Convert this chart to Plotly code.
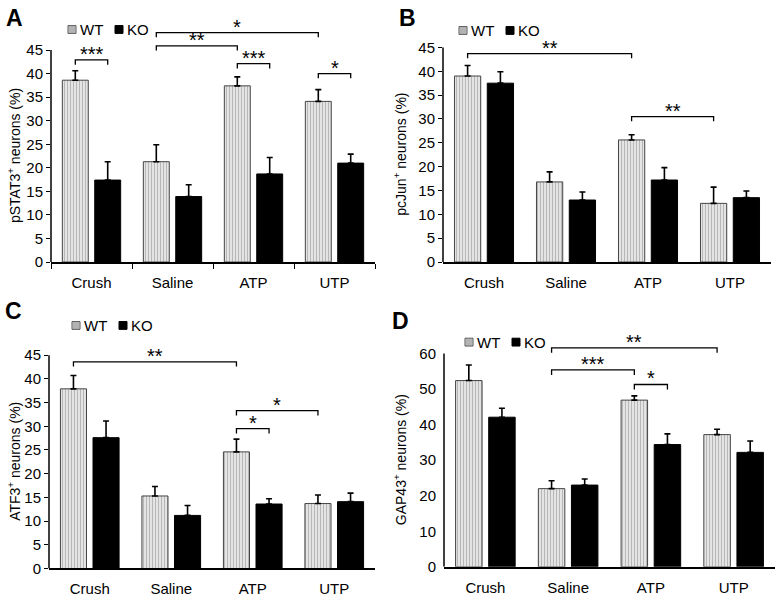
import plotly.graph_objects as go

# 데이터
categories = ["Crush", "Saline", "ATP", "UTP"]

a_wt = [38.6, 21.3, 37.4, 34.1]
a_wt_sem = [2.0, 3.6, 1.9, 2.5]
a_ko = [17.4, 13.9, 18.7, 21.0]
a_ko_sem = [3.9, 2.5, 3.5, 1.9]

b_wt = [39.0, 16.8, 25.6, 12.3]
b_wt_sem = [2.2, 2.1, 1.1, 3.4]
b_ko = [37.5, 13.0, 17.2, 13.5]
b_ko_sem = [2.4, 1.7, 2.6, 1.4]

c_wt = [37.9, 15.3, 24.6, 13.7]
c_wt_sem = [2.8, 2.0, 2.7, 1.8]
c_ko = [27.6, 11.2, 13.6, 14.1]
c_ko_sem = [3.5, 2.1, 1.1, 1.8]

d_wt = [52.4, 22.0, 46.9, 37.2]
d_wt_sem = [4.4, 2.2, 1.2, 1.5]
d_ko = [42.1, 23.0, 34.4, 32.2]
d_ko_sem = [2.5, 1.7, 3.0, 3.2]

# (from category, group, to category, group, height, label)
a_sig = [("Crush", "WT", "Crush", "KO", 42.9, "***"),
         ("Saline", "WT", "ATP", "WT", 45.9, "**"),
         ("Saline", "WT", "UTP", "WT", 48.7, "*"),
         ("ATP", "WT", "ATP", "KO", 42.1, "***"),
         ("UTP", "WT", "UTP", "KO", 40.0, "*")]
b_sig = [("Crush", "WT", "ATP", "WT", 43.7, "**"),
         ("ATP", "WT", "UTP", "WT", 30.5, "**")]
c_sig = [("Crush", "WT", "ATP", "WT", 43.6, "**"),
         ("ATP", "WT", "UTP", "WT", 33.3, "*"),
         ("ATP", "WT", "ATP", "KO", 29.5, "*")]
d_sig = [("Saline", "WT", "UTP", "WT", 61.6, "**"),
         ("Saline", "WT", "ATP", "WT", 55.4, "***"),
         ("ATP", "WT", "ATP", "KO", 51.3, "*")]

W, H = 775, 601
FONT = "Liberation Sans, Arial, sans-serif"
BAR_W = 0.32
WT_OFF, KO_OFF = -0.36, 0.04
PAD = "\u00a0\u2009"  # keeps y tick labels a little away from the axis

panels = [
    dict(letter="A", title="pSTAT3<sup>+</sup> neurons (%)", wt=a_wt, wt_sem=a_wt_sem, ko=a_ko, ko_sem=a_ko_sem,
         sig=a_sig, xpx=(51, 375), y0=263.3, ppu=4.807, ymax=52, ytop=45, dtick=5, yticks=True, xticks=True,
         drop=1.0, letter_xy=(14, 14), legend_xy=(68, 26), title_x=14),
    dict(letter="B", title="pcJun<sup>+</sup> neurons (%)", wt=b_wt, wt_sem=b_wt_sem, ko=b_ko, ko_sem=b_ko_sem,
         sig=b_sig, xpx=(443, 771), y0=263.3, ppu=4.867, ymax=47, ytop=45, dtick=5, yticks=True, xticks=False,
         drop=1.0, letter_xy=(407, 14), legend_xy=(459, 27), title_x=400),
    dict(letter="C", title="ATF3<sup>+</sup> neurons (%)", wt=c_wt, wt_sem=c_wt_sem, ko=c_ko, ko_sem=c_ko_sem,
         sig=c_sig, xpx=(49, 375), y0=576.0, ppu=4.837, ymax=46, ytop=45, dtick=5, yticks=True, xticks=False,
         drop=1.0, letter_xy=(13, 313), legend_xy=(72, 328), title_x=14),
    dict(letter="D", title="GAP43<sup>+</sup> neurons (%)", wt=d_wt, wt_sem=d_wt_sem, ko=d_ko, ko_sem=d_ko_sem,
         sig=d_sig, xpx=(444, 775), y0=574.3, ppu=3.627, ymax=64, ytop=60, dtick=10, yticks=False, xticks=False,
         drop=1.4, letter_xy=(400, 323), legend_xy=(465, 345), title_x=400),
]


def px_x(v):
    return v / W


def px_y(v):
    return 1 - v / H


fig = go.Figure()
shapes = []
annotations = []
layout = {}

for k, p in enumerate(panels, start=1):
    xa = "x" if k == 1 else f"x{k}"
    ya = "y" if k == 1 else f"y{k}"
    xs = list(range(len(categories)))

    fig.add_trace(go.Bar(
        x=xs, y=p["wt"], xaxis=xa, yaxis=ya, width=BAR_W, offset=WT_OFF, name="WT", showlegend=False,
        marker=dict(color="#e0e0e0", line=dict(color="#444444", width=1),
                    pattern=dict(shape="|", fgcolor="#8a8a8a", bgcolor="#e4e4e4", size=3, solidity=0.35)),
        error_y=dict(type="data", symmetric=False, array=p["wt_sem"], arrayminus=[0] * 4,
                     color="black", thickness=1.6, width=3),
    ))
    fig.add_trace(go.Bar(
        x=xs, y=p["ko"], xaxis=xa, yaxis=ya, width=BAR_W, offset=KO_OFF, name="KO", showlegend=False,
        marker=dict(color="black", line=dict(color="black", width=1)),
        error_y=dict(type="data", symmetric=False, array=p["ko_sem"], arrayminus=[0] * 4,
                     color="black", thickness=1.6, width=3),
    ))

    ytop_px = p["y0"] - p["ymax"] * p["ppu"]
    xkey = "xaxis" if k == 1 else f"xaxis{k}"
    ykey = "yaxis" if k == 1 else f"yaxis{k}"
    xaxis = dict(domain=[px_x(p["xpx"][0]), min(px_x(p["xpx"][1]), 1.0)], anchor=ya, range=[-0.5, 3.5],
                 tickmode="array", tickvals=xs, ticktext=categories, ticks="", ticklabelstandoff=6,
                 showline=True, linecolor="black", linewidth=1.5, showgrid=False, zeroline=False,
                 tickfont=dict(family=FONT, size=15, color="black"), fixedrange=True)
    if p["xticks"]:
        xaxis["minor"] = dict(tickmode="array", tickvals=[-0.5, 0.5, 1.5, 2.5, 3.5], ticks="outside",
                              ticklen=5, tickwidth=1.3, tickcolor="black", showgrid=False)
    layout[xkey] = xaxis
    layout[ykey] = dict(domain=[px_y(p["y0"]), px_y(ytop_px)], anchor=xa, range=[0, p["ymax"]],
                        tickmode="array", tickvals=list(range(0, p["ytop"] + 1, p["dtick"])),
                        ticksuffix=PAD if p["yticks"] else PAD + "\u2009",
                        ticks="outside", ticklen=4, tickwidth=1.3,
                        tickcolor="black" if p["yticks"] else "rgba(0,0,0,0)",
                        showline=False, showgrid=False, zeroline=False,
                        tickfont=dict(family=FONT, size=15, color="black"), fixedrange=True)

    # y axis line only up to the last tick
    shapes.append(dict(type="line", xref=f"{xa} domain", yref=ya, x0=0, x1=0, y0=0, y1=p["ytop"],
                       line=dict(color="black", width=1.5)))

    # significance brackets
    for c1, g1, c2, g2, h, label in p["sig"]:
        x1 = categories.index(c1) + (WT_OFF + BAR_W / 2 if g1 == "WT" else KO_OFF + BAR_W / 2)
        x2 = categories.index(c2) + (WT_OFF + BAR_W / 2 if g2 == "WT" else KO_OFF + BAR_W / 2)
        shapes.append(dict(type="path", xref=xa, yref=ya,
                           path=f"M {x1},{h - p['drop']} L {x1},{h} L {x2},{h} L {x2},{h - p['drop']}",
                           line=dict(color="black", width=1.3)))
        annotations.append(dict(xref=xa, yref=ya, x=(x1 + x2) / 2, y=h, text=label, showarrow=False,
                                yanchor="bottom", yshift=-7, font=dict(family=FONT, size=20, color="black")))

    # panel letter
    lx, ly = p["letter_xy"]
    annotations.append(dict(xref="paper", yref="paper", x=px_x(lx), y=px_y(ly), text=f"<b>{p['letter']}</b>",
                            showarrow=False, xanchor="center", yanchor="middle",
                            font=dict(family=FONT, size=23, color="black")))

    # legend: hatched swatch + WT, black swatch + KO
    gx, gy = p["legend_xy"]
    shapes.append(dict(type="rect", xref="paper", yref="paper", x0=px_x(gx), x1=px_x(gx + 8),
                       y0=px_y(gy + 4), y1=px_y(gy - 4), fillcolor="#dcdcdc",
                       line=dict(color="#555555", width=1)))
    for sx in (2, 4, 6):
        shapes.append(dict(type="line", xref="paper", yref="paper", x0=px_x(gx + sx), x1=px_x(gx + sx),
                           y0=px_y(gy + 4), y1=px_y(gy - 4), line=dict(color="#8a8a8a", width=1)))
    shapes.append(dict(type="rect", xref="paper", yref="paper", x0=px_x(gx + 47), x1=px_x(gx + 55),
                       y0=px_y(gy + 4), y1=px_y(gy - 4), fillcolor="black", line=dict(color="black", width=1)))
    annotations.append(dict(xref="paper", yref="paper", x=px_x(gx + 10), y=px_y(gy), text="WT",
                            showarrow=False, xanchor="left", yanchor="middle",
                            font=dict(family=FONT, size=15, color="black")))
    annotations.append(dict(xref="paper", yref="paper", x=px_x(gx + 57), y=px_y(gy), text="KO",
                            showarrow=False, xanchor="left", yanchor="middle",
                            font=dict(family=FONT, size=15, color="black")))

    # y axis title
    mid_px = p["y0"] - p["ytop"] * p["ppu"] / 2
    annotations.append(dict(xref="paper", yref="paper", x=px_x(p["title_x"]), y=px_y(mid_px), text=p["title"],
                            showarrow=False, textangle=-90, xanchor="center", yanchor="middle",
                            font=dict(family=FONT, size=14, color="black")))

fig.update_layout(
    width=W, height=H,
    margin=dict(l=0, r=0, t=0, b=0),
    paper_bgcolor="white", plot_bgcolor="white",
    barmode="overlay",
    showlegend=False,
    shapes=shapes,
    annotations=annotations,
    **layout,
)

# page body has a default 8px margin; drop it so the figure sits at the window corner
fig.write_html("out.html", config={"displayModeBar": False},
               post_script="document.body.style.margin='0';")
